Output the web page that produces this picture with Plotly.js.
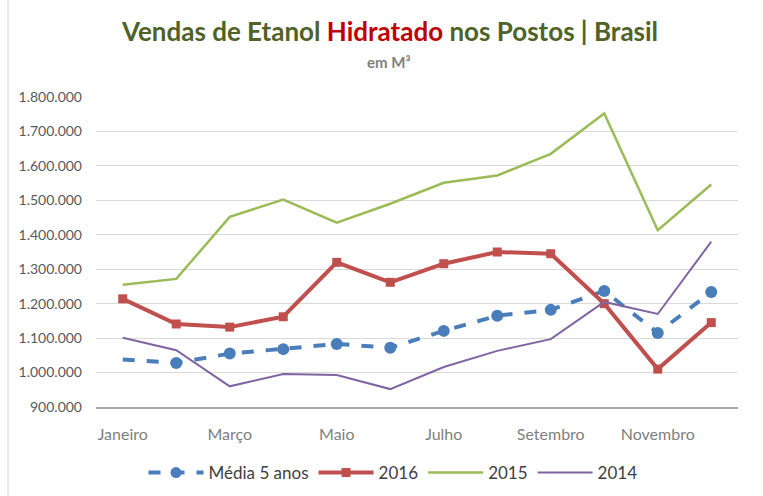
<!DOCTYPE html>
<html>
<head>
<meta charset="utf-8">
<script src="https://cdn.plot.ly/plotly-3.0.1.min.js"></script>
<style>html,body{margin:0;padding:0;background:#fff;}#chart{width:763px;height:496px;}</style>
</head>
<body>
<div id="chart"></div>
<script>
var months = ["Janeiro","Fevereiro","Março","Abril","Maio","Junho","Julho","Agosto","Setembro","Outubro","Novembro","Dezembro"];
var xTickLabels = ["Janeiro","Março","Maio","Julho","Setembro","Novembro"];
var media5anos = [1038000,1028000,1055000,1068000,1083000,1072000,1121000,1165000,1182000,1237000,1115000,1234000];
var v2016 = [1214000,1141000,1132000,1162000,1320000,1262000,1316000,1350000,1345000,1200000,1010000,1145000];
var v2015 = [1255000,1272000,1452000,1502000,1435000,1490000,1551000,1572000,1635000,1752000,1413000,1546000];
var v2014 = [1101000,1065000,960000,996000,993000,952000,1016000,1063000,1097000,1205000,1170000,1380000];
var yTicks = [900000,1000000,1100000,1200000,1300000,1400000,1500000,1600000,1700000,1800000];

var traces = [
  {x: months, y: media5anos, name: "Média 5 anos", type: "scatter", mode: "lines+markers",
   line: {color: "#4A7EBB", width: 4, dash: "dash"},
   marker: {color: "#4A7EBB", opacity: 1, line: {width: 0},
            size: media5anos.map(function(v,i){return i===0?0:12;}), symbol: "circle"}},
  {x: months, y: v2016, name: "2016", type: "scatter", mode: "lines+markers",
   line: {color: "#C0504D", width: 4}, marker: {color: "#C0504D", size: 9, symbol: "square", opacity: 1}},
  {x: months, y: v2015, name: "2015", type: "scatter", mode: "lines",
   line: {color: "#9BBB59", width: 2.5}},
  {x: months, y: v2014, name: "2014", type: "scatter", mode: "lines",
   line: {color: "#8064A2", width: 2}}
];

var layout = {
  width: 763, height: 496,
  paper_bgcolor: "#ffffff", plot_bgcolor: "#ffffff",
  separators: ",.",
  font: {family: "Lato, 'Open Sans', sans-serif", color: "#595959", size: 13},
  margin: {l: 96, r: 25, t: 97, b: 89, autoexpand: false},
  title: {
    text: "<b><span style='color:#4F6228'>Vendas de Etanol </span><span style='color:#C00000'>Hidratado</span><span style='color:#4F6228'> nos Postos | Brasil</span></b>",
    font: {family: "Lato, 'Open Sans', sans-serif", size: 26, color: "#4F6228"},
    xref: "container", x: 390/763, xanchor: "center", yref: "container", y: 1 - 32/496, yanchor: "middle"
  },
  annotations: [
    {text: "<b>em M³</b>", xref: "paper", yref: "paper", x: (388-96)/642, y: (407-62)/310, xanchor: "center", yanchor: "middle",
     showarrow: false, font: {family: "Lato, 'Open Sans', sans-serif", size: 15, color: "#7F7F7F"}}
  ],
  xaxis: {
    type: "category", tickmode: "array", tickvals: xTickLabels, ticktext: xTickLabels,
    showgrid: false, showline: true, linecolor: "#A6A6A6", linewidth: 1.5,
    ticks: "", ticklabelstandoff: 12, tickfont: {size: 16, color: "#7F7F7F"},
    range: [-0.5, 11.5], zeroline: false
  },
  yaxis: {
    range: [900000, 1800000], tickmode: "array", tickvals: yTicks, tickformat: ",.0f",
    showgrid: true, gridcolor: "#D9D9D9", gridwidth: 1, zeroline: false, showline: false,
    ticks: "", ticklabelstandoff: 13, tickfont: {size: 14, color: "#595959"}
  },
  showlegend: true,
  legend: {orientation: "h", x: (393-96)/642, xanchor: "center", y: -0.155, yanchor: "top",
    font: {size: 17, color: "#404040"}, itemwidth: 55, traceorder: "normal"},
  shapes: [
    {type: "line", xref: "paper", yref: "paper", x0: -0.137, x1: -0.137, y0: -0.3, y1: 1.32,
     line: {color: "#D9D9D9", width: 1}}
  ]
};

Plotly.newPlot("chart", traces, layout, {displayModeBar: false, staticPlot: true});
</script>
</body>
</html>
